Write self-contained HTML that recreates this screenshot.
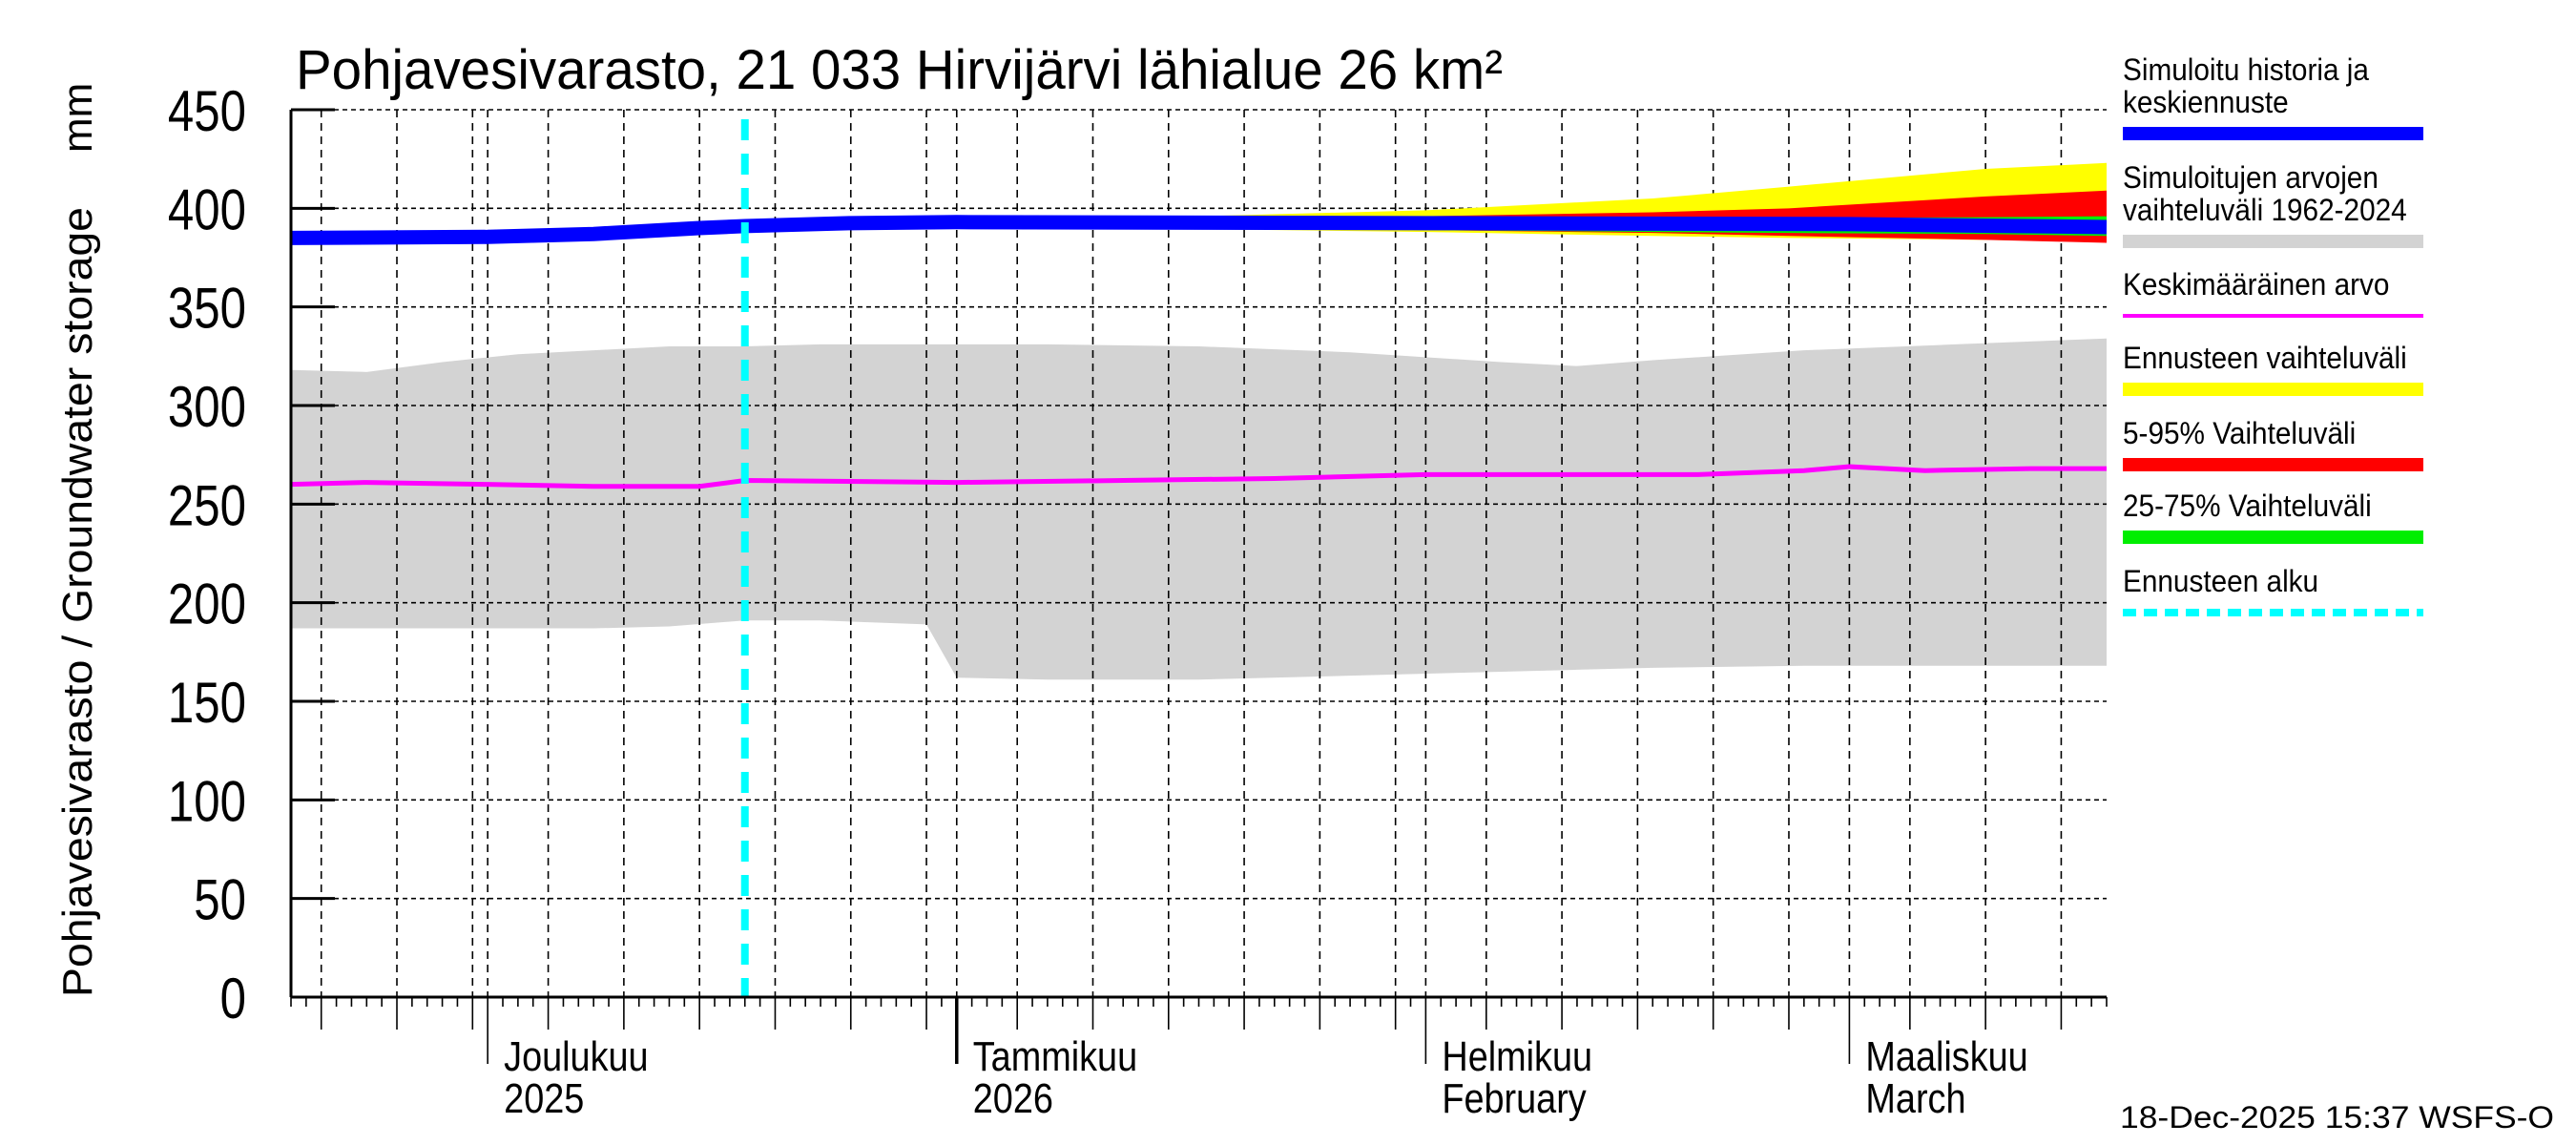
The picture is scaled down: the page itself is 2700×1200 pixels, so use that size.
<!DOCTYPE html>
<html><head><meta charset="utf-8"><style>
html,body{margin:0;padding:0;background:#fff;}
svg{display:block;}
.n{font-family:"Liberation Sans Narrow","Liberation Sans",sans-serif;}
.s{font-family:"Liberation Sans",sans-serif;}
</style></head><body>
<svg id="chart" width="2700" height="1200" viewBox="0 0 2700 1200" xmlns="http://www.w3.org/2000/svg">
<g id="plot"></g>
<text class="n" x="310" y="93" font-size="58" textLength="1265" lengthAdjust="spacingAndGlyphs">Pohjavesivarasto, 21 033 Hirvijärvi lähialue 26 km²</text>
<text class="s" transform="translate(96,1045) rotate(-90)" font-size="44" textLength="828" lengthAdjust="spacingAndGlyphs">Pohjavesivarasto / Groundwater storage</text>
<text class="s" transform="translate(96,160) rotate(-90)" font-size="44">mm</text>
<g id="legend"></g>
<text class="s" x="2222" y="1182" font-size="32" textLength="455" lengthAdjust="spacingAndGlyphs">18-Dec-2025 15:37 WSFS-O</text>
</svg>
<script>
// ---- data (day index from 18-Nov-2025) ----
const histDays   = [0, 5, 10, 15, 20, 25, 30, 35, 42, 44, 50, 60, 70, 80, 85, 90, 100, 110, 120];
const histUpper  = [318, 317, 322, 326, 328, 330, 330, 331, 331, 331, 331, 330, 327, 322, 320, 323, 328, 331, 334];
const histLower  = [187, 187, 187, 187, 187, 188, 191, 191, 189, 162, 161, 161, 163, 165, 166, 167, 168, 168, 168];
const meanDays   = [0, 5, 13, 20, 27, 30, 44, 55, 65, 75, 85, 93, 100, 103, 108, 115, 120];
const meanVals   = [260, 261, 260, 259, 259, 262, 261, 262, 263, 265, 265, 265, 267, 269, 267, 268, 268];
const simDays    = [0, 13, 20, 27, 30, 37, 44, 75, 103, 120];
const simVals    = [385, 385.5, 387, 390, 391, 392.5, 393, 392.5, 392, 390.5];
const fcDays     = [30, 44, 60, 75, 90, 99, 112, 120];
const yellowTop  = [393, 394, 396, 399, 405, 411, 420, 423];
const yellowBot  = [391, 390.5, 389.5, 388, 386, 385, 384, 383];
const redTop     = [393, 393, 395, 396, 398, 400, 406, 409];
const redBot     = [391.5, 391, 390, 389, 387.5, 386, 384, 382.5];
const greenTop   = [393, 393, 394, 394.5, 395, 395, 395.5, 396];
const greenBot   = [392, 391, 390, 389, 388, 387.5, 387, 386];
const forecastStart = 30;
const yTicks     = [0, 50, 100, 150, 200, 250, 300, 350, 400, 450];
const monthLabels = [["Joulukuu","2025"],["Tammikuu","2026"],["Helmikuu","February"],["Maaliskuu","March"]];

const NS="http://www.w3.org/2000/svg";
const L=305,R=2208,T=115,B=1045,NDAYS=120;
function x(d){return L+d*(R-L)/120;}
function y(v){return B-v*(B-T)/450;}
const plot=document.getElementById('plot');
function mk(tag,attrs,parent){const e=document.createElementNS(NS,tag);for(const k in attrs)e.setAttribute(k,attrs[k]);(parent||plot).appendChild(e);return e;}
function bandPts(ds,top,bot){let p=[];for(let i=0;i<ds.length;i++)p.push(x(ds[i])+','+y(top[i]));for(let i=ds.length-1;i>=0;i--)p.push(x(ds[i])+','+y(bot[i]));return p.join(' ');}
function linePts(ds,vs){return ds.map((d,i)=>x(d)+','+y(vs[i])).join(' ');}

let e=mk('polygon',{points:bandPts(histDays,histUpper,histLower),fill:'#d3d3d3'});



for(let d=0;d<=NDAYS;d++){
  const dt=new Date(2025,10,18+d);const dom=dt.getDate();
  const isMonth=dom===1;const is5=dom%5===0;
  if(isMonth||is5){
    e=mk('line',{x1:x(d),x2:x(d),y1:T,y2:B,stroke:'#000','stroke-width':1.6,'stroke-dasharray':'8,6'});
    
    
  }
  let len=isMonth?70:(is5?34:10);
  e=mk('line',{x1:x(d),x2:x(d),y1:B,y2:B+len,stroke:'#000','stroke-width':(isMonth&&dt.getMonth()===0)?3.5:1.6});
  
  
  if(isMonth){
    const idx=[11,0,1,2].indexOf(dt.getMonth());
    if(idx>=0){
      e=mk('text',{transform:'translate('+(x(d)+17)+',1122) scale(0.86,1)','font-size':44,class:'n'});e.textContent=monthLabels[idx][0];
      
      
      e=mk('text',{transform:'translate('+(x(d)+17)+',1166) scale(0.86,1)','font-size':44,class:'n'});e.textContent=monthLabels[idx][1];
      
      
    }
  }
}
yTicks.forEach(v=>{
  if(v>0&&v<450){e=mk('line',{x1:L,x2:R,y1:y(v),y2:y(v),stroke:'#000','stroke-width':1.6,'stroke-dasharray':'5,4'});
  
  }
  e=mk('line',{x1:L,x2:L+46,y1:y(v),y2:y(v),stroke:'#000','stroke-width':3});
  
  
  e=mk('text',{transform:'translate(258,'+(y(v)+22)+') scale(0.82,1)','font-size':60,'text-anchor':'end',class:'n'});e.textContent=v;
  
  
});
e=mk('line',{x1:L,x2:R,y1:T,y2:T,stroke:'#000','stroke-width':1.6,'stroke-dasharray':'5,4'});



e=mk('polyline',{points:linePts(meanDays,meanVals),fill:'none',stroke:'#ff00ff','stroke-width':5});



e=mk('polygon',{points:bandPts(fcDays,yellowTop,yellowBot),fill:'#ffff00'});


e=mk('polygon',{points:bandPts(fcDays,redTop,redBot),fill:'#ff0000'});


e=mk('polygon',{points:bandPts(fcDays,greenTop,greenBot),fill:'#00ee00'});



e=mk('polyline',{points:linePts(simDays,simVals),fill:'none',stroke:'#0000ff','stroke-width':15});



e=mk('line',{x1:x(forecastStart),x2:x(forecastStart),y1:T+10,y2:B,stroke:'#00ffff','stroke-width':8,'stroke-dasharray':'22,14'});



e=mk('line',{x1:L,x2:L,y1:T,y2:B,stroke:'#000','stroke-width':3});


e=mk('line',{x1:L,x2:R,y1:B,y2:B,stroke:'#000','stroke-width':3});



const lg=document.getElementById('legend');
const items=[
 [["Simuloitu historia ja","keskiennuste"],'#0000ff',14,null,'legend-simulated'],
 [["Simuloitujen arvojen","vaihteluväli 1962-2024"],'#d3d3d3',14,null,'legend-historical-range'],
 [["Keskimääräinen arvo"],'#ff00ff',4,null,'legend-mean'],
 [["Ennusteen vaihteluväli"],'#ffff00',14,null,'legend-forecast-range'],
 [["5-95% Vaihteluväli"],'#ff0000',14,null,'legend-5-95'],
 [["25-75% Vaihteluväli"],'#00ee00',14,null,'legend-25-75'],
 [["Ennusteen alku"],'#00ffff',8,'14,8','legend-forecast-start']];
const barY=[140,253,331,408,487,563,642];
items.forEach((it,i)=>{
  const g=mk('g',{},lg);
  
  
  const lines=it[0];
  lines.forEach((t,j)=>{
    const tx=mk('text',{transform:'translate(2225,'+(barY[i]-22-(lines.length-1-j)*34)+') scale(0.93,1)','font-size':32,class:'s'},g);tx.textContent=t;
  });
  const a={x1:2225,x2:2540,y1:barY[i],y2:barY[i],stroke:it[1],'stroke-width':it[2]};
  if(it[3])a['stroke-dasharray']=it[3];
  mk('line',a,g);
});
</script>
</body></html>
